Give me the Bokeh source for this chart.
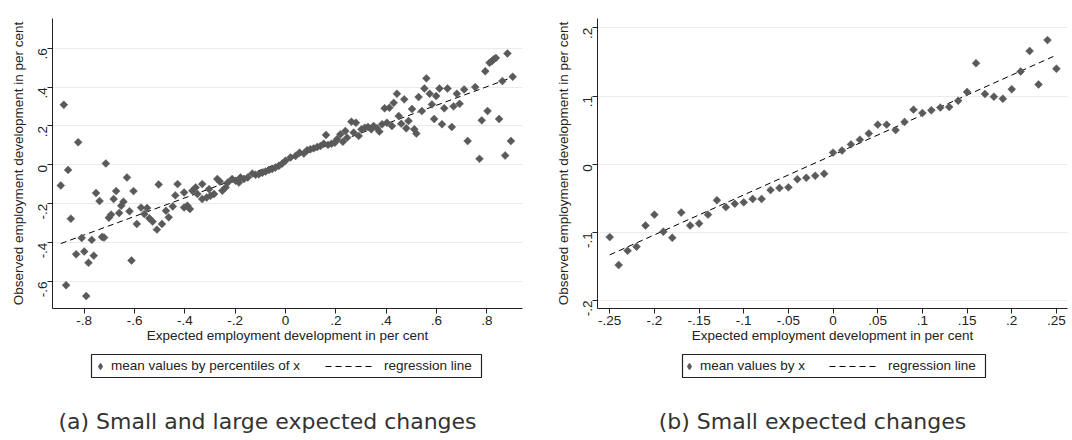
import math

from bokeh.plotting import figure
from bokeh.layouts import row, column
from bokeh.models import (Range1d, FixedTicker, CustomJSTickFormatter,
                          Legend, LegendItem, Label)
from bokeh.embed import file_html
from bokeh.resources import INLINE

# ---------------------------------------------------------------- data
# (a) mean observed change by percentiles of the expected change
a_expected = [
    -0.893, -0.881, -0.872, -0.864, -0.853, -0.832, -0.824, -0.810, -0.800, -0.792,
    -0.783, -0.770, -0.762, -0.753, -0.739, -0.729, -0.721, -0.714, -0.702, -0.693,
    -0.683, -0.673, -0.661, -0.653, -0.644, -0.630, -0.620, -0.612, -0.604, -0.591,
    -0.574, -0.561, -0.550, -0.541, -0.528, -0.511, -0.504, -0.491, -0.475, -0.464,
    -0.448, -0.438, -0.429, -0.403, -0.403, -0.390, -0.380, -0.370, -0.357, -0.350,
    -0.331, -0.331, -0.313, -0.304, -0.298, -0.284, -0.271, -0.261, -0.251, -0.238,
    -0.229, -0.212, -0.198, -0.185, -0.179, -0.165, -0.150, -0.132, -0.119, -0.106,
    -0.092, -0.079, -0.066, -0.053, -0.040, -0.026, -0.013,
    0.000, 0.020, 0.040, 0.056, 0.073, 0.086, 0.099, 0.112, 0.126, 0.139,
    0.152, 0.161, 0.169, 0.183, 0.196, 0.205, 0.218, 0.228, 0.238, 0.245,
    0.262, 0.271, 0.280, 0.291, 0.302, 0.315, 0.328, 0.341, 0.350, 0.364,
    0.373, 0.384, 0.394, 0.403, 0.413, 0.423, 0.430, 0.443, 0.450, 0.460,
    0.472, 0.480, 0.489, 0.503, 0.512, 0.520, 0.529, 0.542, 0.552, 0.560,
    0.573, 0.582, 0.591, 0.599, 0.612, 0.622, 0.631, 0.644, 0.661, 0.668,
    0.681, 0.692, 0.710, 0.724, 0.754, 0.771, 0.780, 0.794, 0.803, 0.811,
    0.820, 0.827, 0.836, 0.849, 0.862, 0.873, 0.882, 0.896, 0.903,
]
a_observed = [
    -0.106, 0.309, -0.619, -0.026, -0.277, -0.460, 0.116, -0.376, -0.446, -0.675,
    -0.504, -0.386, -0.467, -0.145, -0.186, -0.371, -0.374, 0.007, -0.272, -0.256,
    -0.176, -0.135, -0.248, -0.210, -0.190, -0.065, -0.239, -0.492, -0.135, -0.304,
    -0.220, -0.253, -0.222, -0.275, -0.292, -0.333, -0.101, -0.304, -0.236, -0.270,
    -0.214, -0.157, -0.099, -0.142, -0.219, -0.210, -0.227, -0.133, -0.116, -0.150,
    -0.099, -0.176, -0.168, -0.125, -0.159, -0.150, -0.073, -0.086, -0.133, -0.116,
    -0.091, -0.073, -0.082, -0.091, -0.065, -0.073, -0.065, -0.045, -0.051, -0.048,
    -0.041, -0.034, -0.027, -0.022, -0.014, -0.005, 0.007,
    0.021, 0.038, 0.046, 0.063, 0.058, 0.075, 0.080, 0.085, 0.092, 0.097,
    0.109, 0.154, 0.103, 0.109, 0.114, 0.132, 0.157, 0.119, 0.174, 0.140,
    0.222, 0.166, 0.217, 0.149, 0.183, 0.191, 0.195, 0.183, 0.200, 0.188,
    0.171, 0.209, 0.291, 0.217, 0.294, 0.200, 0.319, 0.366, 0.251, 0.212,
    0.337, 0.188, 0.226, 0.287, 0.183, 0.161, 0.349, 0.277, 0.393, 0.445,
    0.366, 0.311, 0.236, 0.354, 0.393, 0.209, 0.291, 0.393, 0.195, 0.301,
    0.366, 0.314, 0.388, 0.123, 0.400, 0.031, 0.229, 0.482, 0.277, 0.525,
    0.533, 0.542, 0.550, 0.236, 0.431, 0.048, 0.573, 0.123, 0.453,
]
a_reg_x = [-0.893, 0.903]
a_reg_y = [-0.405, 0.451]

# (b) mean observed change by expected change, small changes only
b_expected = [
    -0.25, -0.24, -0.23, -0.22, -0.21, -0.20, -0.19, -0.18, -0.17, -0.16,
    -0.15, -0.14, -0.13, -0.12, -0.11, -0.10, -0.09, -0.08, -0.07, -0.06,
    -0.05, -0.04, -0.03, -0.02, -0.01, 0.00, 0.01, 0.02, 0.03, 0.04,
    0.05, 0.06, 0.07, 0.08, 0.09, 0.10, 0.11, 0.12, 0.13, 0.14,
    0.15, 0.16, 0.17, 0.18, 0.19, 0.20, 0.21, 0.22, 0.23, 0.24, 0.25,
]
b_observed = [
    -0.107, -0.148, -0.127, -0.121, -0.090, -0.074, -0.099, -0.108, -0.071, -0.090,
    -0.087, -0.074, -0.053, -0.063, -0.058, -0.056, -0.051, -0.051, -0.038, -0.035,
    -0.034, -0.022, -0.020, -0.017, -0.014, 0.017, 0.020, 0.029, 0.036, 0.045,
    0.058, 0.058, 0.050, 0.062, 0.080, 0.075, 0.079, 0.083, 0.084, 0.093,
    0.106, 0.148, 0.103, 0.099, 0.096, 0.110, 0.136, 0.166, 0.117, 0.182, 0.140,
]
b_reg_x = [-0.25, 0.25]
b_reg_y = [-0.133, 0.160]

# ticks and their labels
a_xticks = [-0.8, -0.6, -0.4, -0.2, 0.0, 0.2, 0.4, 0.6, 0.8]
a_xlabels = ["-.8", "-.6", "-.4", "-.2", "0", ".2", ".4", ".6", ".8"]
a_yticks = [-0.6, -0.4, -0.2, 0.0, 0.2, 0.4, 0.6]
a_ylabels = ["-.6", "-.4", "-.2", "0", ".2", ".4", ".6"]
b_xticks = [-0.25, -0.2, -0.15, -0.1, -0.05, 0.0, 0.05, 0.1, 0.15, 0.2, 0.25]
b_xlabels = ["-.25", "-.2", "-.15", "-.1", "-.05", "0", ".05", ".1", ".15", ".2", ".25"]
b_yticks = [-0.2, -0.1, 0.0, 0.1, 0.2]
b_ylabels = ["-.2", "-.1", "0", ".1", ".2"]

X_TITLE = "Expected employment development in per cent"
Y_TITLE = "Observed employment development in per cent"

# ---------------------------------------------------------------- style
FONT = "Liberation Sans"
CAPTION_FONT = "DejaVu Sans"
TEXT = "#222222"
MARKER = "#5a5a5a"
GRID = "#ebebeb"
DASH = "6 4"

PANEL_W = 536
FRAME_W = 470
PLOT_H = 348
FOOT_H = 92

LABEL_CODE = """
let k = 0;
for (let i = 1; i < tvals.length; i++) {
  if (Math.abs(tvals[i] - tick) < Math.abs(tvals[k] - tick)) k = i;
}
return tlabs[k];
"""


def tick_formatter(tvals, tlabs):
    return CustomJSTickFormatter(args=dict(tvals=tvals, tlabs=tlabs), code=LABEL_CODE)


def scatter_panel(xs, ys, reg_x, reg_y, xr, yr, xticks, xlabels, yticks, ylabels,
                  left_border):
    p = figure(frame_width=FRAME_W, frame_height=290,
               x_range=Range1d(*xr), y_range=Range1d(*yr),
               min_border_left=left_border,
               min_border_right=PANEL_W - left_border - FRAME_W,
               min_border_top=18, min_border_bottom=PLOT_H - 18 - 290,
               output_backend="svg", toolbar_location=None)
    p.outline_line_color = None
    p.background_fill_color = "white"
    p.border_fill_color = "white"

    p.xaxis.ticker = FixedTicker(ticks=xticks)
    p.yaxis.ticker = FixedTicker(ticks=yticks)
    p.xaxis.formatter = tick_formatter(xticks, xlabels)
    p.yaxis.formatter = tick_formatter(yticks, ylabels)
    p.xaxis.axis_label = X_TITLE
    p.yaxis.axis_label = Y_TITLE
    p.yaxis.major_label_orientation = math.pi / 2

    p.xgrid.visible = False
    p.ygrid.grid_line_color = GRID
    p.ygrid.grid_line_width = 1

    for ax in (p.xaxis, p.yaxis):
        ax.axis_line_color = TEXT
        ax.major_tick_line_color = TEXT
        ax.minor_tick_line_color = None
        ax.major_tick_in = 0
        ax.major_tick_out = 5
        ax.major_label_text_font = FONT
        ax.major_label_text_font_size = "13.5px"
        ax.major_label_text_color = TEXT
        ax.axis_label_text_font = FONT
        ax.axis_label_text_font_size = "13.5px"
        ax.axis_label_text_font_style = "normal"
        ax.axis_label_text_color = TEXT
    p.xaxis.major_label_standoff = 2
    p.xaxis.axis_label_standoff = 0
    p.yaxis.major_label_standoff = 5
    p.yaxis.axis_label_standoff = 5

    p.line(reg_x, reg_y, line_color="black", line_width=1, line_dash=DASH)
    p.scatter(xs, ys, marker="square", angle=math.pi / 4, size=5.6,
              fill_color=MARKER, line_color=MARKER, line_width=0.5)
    return p


def footer_panel(left_border, marker_label, box, marker_x, line_x, caption_x, caption):
    # the footer frame lines up with the plot frame above it; x is in panel pixels
    f = figure(frame_width=FRAME_W, height=FOOT_H,
               x_range=Range1d(left_border, left_border + FRAME_W),
               y_range=Range1d(0, FOOT_H),
               x_axis_type=None, y_axis_type=None,
               min_border_left=left_border,
               min_border_right=PANEL_W - left_border - FRAME_W,
               min_border_top=0, min_border_bottom=0,
               output_backend="svg", toolbar_location=None)
    f.outline_line_color = None
    f.grid.visible = False
    f.background_fill_color = "white"
    f.border_fill_color = "white"

    # legend frame
    f.quad(left=[box[0]], right=[box[1]], bottom=[63], top=[86],
           fill_color=None, line_color=TEXT, line_width=1.2)

    nan = float("nan")
    key_marker = f.scatter(x=[nan], y=[nan], marker="diamond", size=5.6,
                           fill_color=MARKER, line_color=MARKER, line_width=1.3)
    key_line = f.line(x=[nan, nan], y=[nan, nan], line_color="black", line_width=1,
                      line_dash=DASH)

    common = dict(orientation="horizontal", padding=0, margin=0, spacing=0,
                  glyph_height=20, label_height=16,
                  border_line_color=None, background_fill_alpha=0,
                  label_text_font=FONT, label_text_font_size="13.5px",
                  label_text_color=TEXT)
    f.add_layout(Legend(items=[LegendItem(label=marker_label, renderers=[key_marker])],
                        location=(marker_x - 7 - left_border, 64.5), glyph_width=14,
                        label_standoff=4, **common))
    f.add_layout(Legend(items=[LegendItem(label="regression line", renderers=[key_line])],
                        location=(line_x - left_border, 64.5), glyph_width=47,
                        label_standoff=12, **common))

    f.add_layout(Label(x=caption_x, y=19, text=caption, text_align="center",
                       text_baseline="middle", text_font=CAPTION_FONT,
                       text_font_size="22px", text_color="#333333"))
    return f


plot_a = scatter_panel(a_expected, a_observed, a_reg_x, a_reg_y,
                       (-0.926, 0.942), (-0.739, 0.753),
                       a_xticks, a_xlabels, a_yticks, a_ylabels, left_border=52)
foot_a = footer_panel(52, "mean values by percentiles of x", (91, 481), 100, 325,
                      267, "(a) Small and large expected changes")

plot_b = scatter_panel(b_expected, b_observed, b_reg_x, b_reg_y,
                       (-0.2637, 0.2624), (-0.2117, 0.2137),
                       b_xticks, b_xlabels, b_yticks, b_ylabels, left_border=61)
foot_b = footer_panel(61, "mean values by x", (146, 449), 153, 293,
                      276, "(b) Small expected changes")

layout = row(column(plot_a, foot_a), column(plot_b, foot_b))

with open("out.html", "w") as fh:
    fh.write(file_html(layout, INLINE))
